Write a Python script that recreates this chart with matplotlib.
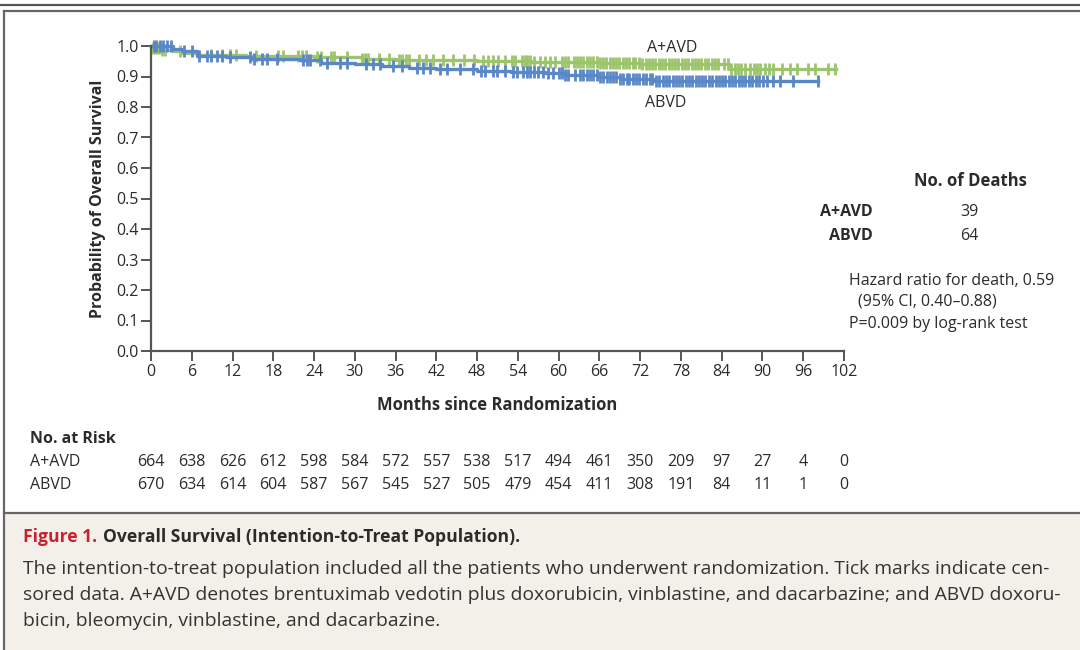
import numpy as np
import matplotlib.pyplot as plt
from matplotlib.lines import Line2D
from matplotlib.patches import Rectangle

plt.rcParams['font.family'] = ['Open Sans', 'DejaVu Sans']

# Kaplan-Meier steps (months, survival)
green_t = [0, 0.3, 1.5, 3.2, 4.5, 7.0, 10, 14, 24, 31, 36, 48, 56, 66, 72, 85]
green_s = [1.0, 0.993, 0.988, 0.982, 0.976, 0.972, 0.970, 0.967, 0.963,
           0.958, 0.955, 0.951, 0.948, 0.943, 0.940, 0.925]
green_end = 100.8
green_cens = [0.3, 0.6, 0.9, 1.2, 1.6, 2.0, 4.3, 8.9, 10.4, 11.7, 12.5, 15.5, 18.7, 19.5, 21.6,
              22.2, 22.8, 24.4, 25.0, 26.5, 27.0, 28.9, 31.0, 31.5, 32.0, 33.5, 35.0, 36.5, 37.0,
              37.5, 38.0, 39.5, 40.5, 41.5, 43.0, 44.5, 46.0, 47.5, 48.9, 49.6, 50.4, 51.1, 52.1,
              53.1, 53.6, 54.6, 55.0, 55.3, 55.8, 56.3, 57.3, 58.0, 58.7, 59.5, 60.5, 60.9, 61.4,
              62.2, 62.7, 63.1, 63.6, 64.1, 64.6, 65.1, 65.6, 66.1, 66.5, 67.0, 67.5, 68.0, 68.4,
              68.9, 69.4, 69.9, 70.4, 70.9, 71.3, 71.8, 72.3, 72.8, 73.3, 73.8, 74.2, 74.7, 75.2,
              75.7, 76.2, 76.7, 77.1, 77.6, 78.1, 78.6, 79.1, 79.6, 80.0, 80.5, 81.0, 81.5, 82.0,
              82.5, 83.0, 83.5, 84.4, 84.9, 85.4, 85.9, 86.4, 86.9, 87.4, 88.2, 88.7, 89.2, 89.7,
              90.3, 91.0, 91.6, 92.9, 94.1, 95.1, 96.7, 97.7, 99.6, 100.7]

blue_t = [0, 3.2, 4.5, 6.8, 11, 14.7, 22, 25, 30, 34, 38, 42, 48, 53, 58, 61, 66, 69, 74]
blue_s = [1.0, 0.99, 0.985, 0.968, 0.965, 0.959, 0.953, 0.945, 0.940, 0.933, 0.928, 0.924,
          0.918, 0.914, 0.910, 0.904, 0.898, 0.893, 0.886]
blue_end = 98.2
blue_cens = [0.4, 0.8, 1.3, 1.8, 2.4, 3.0, 4.8, 6.0, 7.0, 8.2, 8.9, 9.7, 10.4, 11.6, 14.6, 15.1,
             16.3, 17.0, 18.5, 22.4, 22.9, 23.4, 24.9, 25.9, 27.8, 28.8, 31.7, 32.7, 33.7, 35.6,
             37.0, 39.1, 40.1, 41.1, 42.5, 43.5, 45.5, 47.4, 48.6, 49.1, 50.4, 50.9, 52.1, 53.3,
             53.8, 54.8, 55.3, 55.8, 56.3, 57.0, 57.7, 58.5, 59.2, 60.0, 60.5, 61.0, 61.4, 62.4,
             63.1, 63.6, 64.1, 64.6, 65.1, 65.6, 66.1, 66.6, 67.1, 67.5, 68.0, 68.5, 69.0, 69.5,
             70.0, 70.4, 70.9, 71.4, 71.9, 72.4, 72.9, 73.4, 73.8, 74.3, 74.8, 75.3, 75.8, 76.3,
             76.8, 77.2, 77.7, 78.2, 78.7, 79.2, 79.7, 80.2, 80.6, 81.1, 81.6, 82.1, 82.6, 83.1,
             83.6, 84.1, 84.5, 85.0, 85.5, 86.0, 86.5, 87.0, 87.5, 88.0, 88.5, 89.0, 89.5, 90.1,
             90.6, 91.6, 92.6, 94.5, 98.2]

months = [0, 6, 12, 18, 24, 30, 36, 42, 48, 54, 60, 66, 72, 78, 84, 90, 96, 102]
risk_avd = [664, 638, 626, 612, 598, 584, 572, 557, 538, 517, 494, 461, 350, 209, 97, 27, 4, 0]
risk_abvd = [670, 634, 614, 604, 587, 567, 545, 527, 505, 479, 454, 411, 308, 191, 84, 11, 1, 0]

deaths = {'A+AVD': 39, 'ABVD': 64}

GREEN = '#9cc56b'
BLUE = '#5a87c8'
INK = '#2b2b2b'
W, H = 1080, 650
FS = 11.5


def fx(x):
    return x / W


def fy(y):
    return 1 - y / H


fig = plt.figure(figsize=(10.8, 6.5), dpi=100)

# frame and caption box
fig.add_artist(Line2D([0, 1], [fy(5), fy(5)], color='#555555', lw=1.6))
fig.add_artist(Line2D([fx(4), 1], [fy(11), fy(11)], color='#666666', lw=1.6))
fig.add_artist(Line2D([fx(4), fx(4)], [0, fy(11)], color='#666666', lw=1.6))
fig.add_artist(Rectangle((fx(5), 0), 1, fy(513), transform=fig.transFigure,
                         facecolor='#f3f0ea', edgecolor='none', zorder=-1))
fig.add_artist(Line2D([fx(4), 1], [fy(513), fy(513)], color='#666666', lw=1.6))

ax = fig.add_axes([fx(151), fy(351), fx(844) - fx(151), fy(46) - fy(351)])
ax.set_xlim(0, 102)
ax.set_ylim(0, 1.0)
for s in ['top', 'right']:
    ax.spines[s].set_visible(False)
for s in ['left', 'bottom']:
    ax.spines[s].set_color('#555555')
    ax.spines[s].set_linewidth(1.6)
ax.set_xticks(months)
ax.set_yticks(np.arange(0, 1.01, 0.1))
ax.set_yticklabels([f'{v:.1f}' for v in np.arange(0, 1.01, 0.1)])
ax.tick_params(colors='#555555', labelcolor=INK, labelsize=FS, length=7, width=1.4, pad=2)
ax.set_xlabel('Months since Randomization', fontsize=12, fontweight='bold', color=INK, labelpad=12)
ax.set_ylabel('Probability of Overall Survival', fontsize=FS, fontweight='bold', color=INK, labelpad=7)


def km(t, s, end, cens, color):
    ax.step(t + [end], s + [s[-1]], where='post', color=color, lw=2.4, clip_on=False)
    idx = np.searchsorted(t, cens, side='right') - 1
    ax.plot(cens, np.array(s)[idx], ls='none', marker='|', ms=8, mew=2.0, color=color, clip_on=False)


km(green_t, green_s, green_end, green_cens, GREEN)
km(blue_t, blue_s, blue_end, blue_cens, BLUE)

ax.text(76.7, 0.993, 'A+AVD', fontsize=FS, color=INK, ha='center', va='center')
ax.text(75.7, 0.813, 'ABVD', fontsize=FS, color=INK, ha='center', va='center')

# right-hand annotations
fig.text(fx(970), fy(181), 'No. of Deaths', fontsize=12, fontweight='bold', color=INK, ha='center', va='center')
for i, (k, v) in enumerate(deaths.items()):
    yy = fy(212 + 24 * i)
    fig.text(fx(873), yy, k, fontsize=FS, fontweight='bold', color=INK, ha='right', va='center')
    fig.text(fx(969), yy, str(v), fontsize=FS, color=INK, ha='center', va='center')
fig.text(fx(849), fy(281), 'Hazard ratio for death, 0.59', fontsize=FS, color=INK, va='center')
fig.text(fx(858), fy(302), '(95% CI, 0.40\u20130.88)', fontsize=FS, color=INK, va='center')
fig.text(fx(849), fy(324), 'P=0.009 by log-rank test', fontsize=FS, color=INK, va='center')

# number at risk
fig.text(fx(30), fy(439), 'No. at Risk', fontsize=FS, fontweight='bold', color=INK, va='center')
for row, (name, vals) in enumerate([('A+AVD', risk_avd), ('ABVD', risk_abvd)]):
    yy = fy(462 + 23 * row)
    fig.text(fx(30), yy, name, fontsize=FS, color=INK, va='center')
    for m, v in zip(months, vals):
        xf = fig.transFigure.inverted().transform(ax.transData.transform((m, 0)))[0]
        fig.text(xf, yy, str(v), fontsize=FS, color=INK, ha='center', va='center')

# caption
t1 = fig.text(fx(23), fy(537), 'Figure 1.', fontsize=12.6, fontweight='bold', color='#c8202f', va='center')
fig.canvas.draw()
x_end = fig.transFigure.inverted().transform(t1.get_window_extent().p1)[0]
fig.text(x_end + fx(6), fy(537), 'Overall Survival (Intention-to-Treat Population).', fontsize=12.6,
         fontweight='bold', color=INK, va='center')
cap = ['The intention-to-treat population included all the patients who underwent randomization. Tick marks indicate cen-',
       'sored data. A+AVD denotes brentuximab vedotin plus doxorubicin, vinblastine, and dacarbazine; and ABVD doxoru-',
       'bicin, bleomycin, vinblastine, and dacarbazine.']
for i, line in enumerate(cap):
    fig.text(fx(23), fy(569 + 26 * i), line, fontsize=13.9, color='#333333', va='center')

fig.savefig('out.png', dpi=100)
